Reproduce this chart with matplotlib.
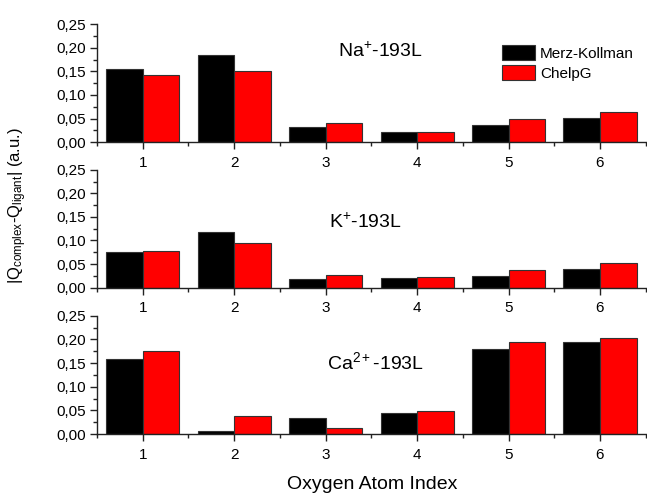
import numpy as np
import matplotlib
matplotlib.use("Agg")
import matplotlib.pyplot as plt
from matplotlib.ticker import MultipleLocator, FuncFormatter

plt.rcParams['font.family'] = ['Liberation Sans', 'DejaVu Sans']
plt.rcParams['mathtext.fontset'] = 'custom'
plt.rcParams['mathtext.rm'] = 'Liberation Sans'
plt.rcParams['mathtext.it'] = 'Liberation Sans:italic'

atoms = [1, 2, 3, 4, 5, 6]

na_mk = [0.154, 0.185, 0.033, 0.021, 0.036, 0.052]
na_chelpg = [0.142, 0.151, 0.041, 0.021, 0.049, 0.063]

k_mk = [0.076, 0.117, 0.018, 0.020, 0.025, 0.039]
k_chelpg = [0.077, 0.094, 0.027, 0.023, 0.038, 0.053]

ca_mk = [0.158, 0.007, 0.034, 0.045, 0.179, 0.194]
ca_chelpg = [0.175, 0.039, 0.012, 0.048, 0.194, 0.204]

panels = [
    (r'Na$^{\mathregular{+}}$-193L', na_mk, na_chelpg, (3.6, 0.193)),
    (r'K$^{\mathregular{+}}$-193L', k_mk, k_chelpg, (3.43, 0.140)),
    (r'Ca$^{\mathregular{2+}}$-193L', ca_mk, ca_chelpg, (3.55, 0.153)),
]

fig = plt.figure(figsize=(6.47, 4.95), dpi=100)
boxes = [[0.150, 0.713, 0.848, 0.238],
         [0.150, 0.419, 0.848, 0.238],
         [0.150, 0.123, 0.848, 0.239]]

x = np.array(atoms)
w = 0.4
comma = FuncFormatter(lambda v, p: ('%.2f' % v).replace('.', ','))

for i, (name, mk, ch, pos) in enumerate(panels):
    ax = fig.add_axes(boxes[i])
    ax.bar(x - w / 2, mk, w, color='black', edgecolor='#333333', linewidth=0.8, label='Merz-Kollman')
    ax.bar(x + w / 2, ch, w, color='#ff0000', edgecolor='#333333', linewidth=0.8, label='ChelpG')
    ax.set_xlim(0.5, 6.5)
    ax.set_ylim(0, 0.25)
    ax.set_xticks(atoms)
    ax.xaxis.set_minor_locator(MultipleLocator(0.5))
    ax.yaxis.set_major_locator(MultipleLocator(0.05))
    ax.yaxis.set_minor_locator(MultipleLocator(0.025))
    ax.yaxis.set_major_formatter(comma)
    for s in ['top', 'right']:
        ax.spines[s].set_visible(False)
    for s in ['left', 'bottom']:
        ax.spines[s].set_color('#222222')
        ax.spines[s].set_linewidth(1.0)
    ax.tick_params(which='major', direction='out', length=5, width=1, labelsize=11, color='#222222')
    ax.tick_params(which='minor', direction='out', length=3, width=1, color='#222222')
    ax.tick_params(axis='x', pad=5)
    ax.tick_params(axis='y', pad=3)
    ax.text(pos[0], pos[1], name, fontsize=14, ha='center', va='center')
    if i == 0:
        ax.legend(loc='upper right', bbox_to_anchor=(0.995, 0.9), frameon=False, fontsize=11,
                  handlelength=2.2, handleheight=1.1, handletextpad=0.3, labelspacing=0.3,
                  borderaxespad=0.2)

fig.text(0.575, 0.022, 'Oxygen Atom Index', fontsize=14, ha='center', va='center')
fig.text(0.027, 0.584, r'|Q$_{\mathregular{complex}}$-Q$_{\mathregular{ligant}}$| (a.u.)',
         rotation=90, fontsize=12, ha='center', va='center')

fig.savefig('out.png', dpi=100)
